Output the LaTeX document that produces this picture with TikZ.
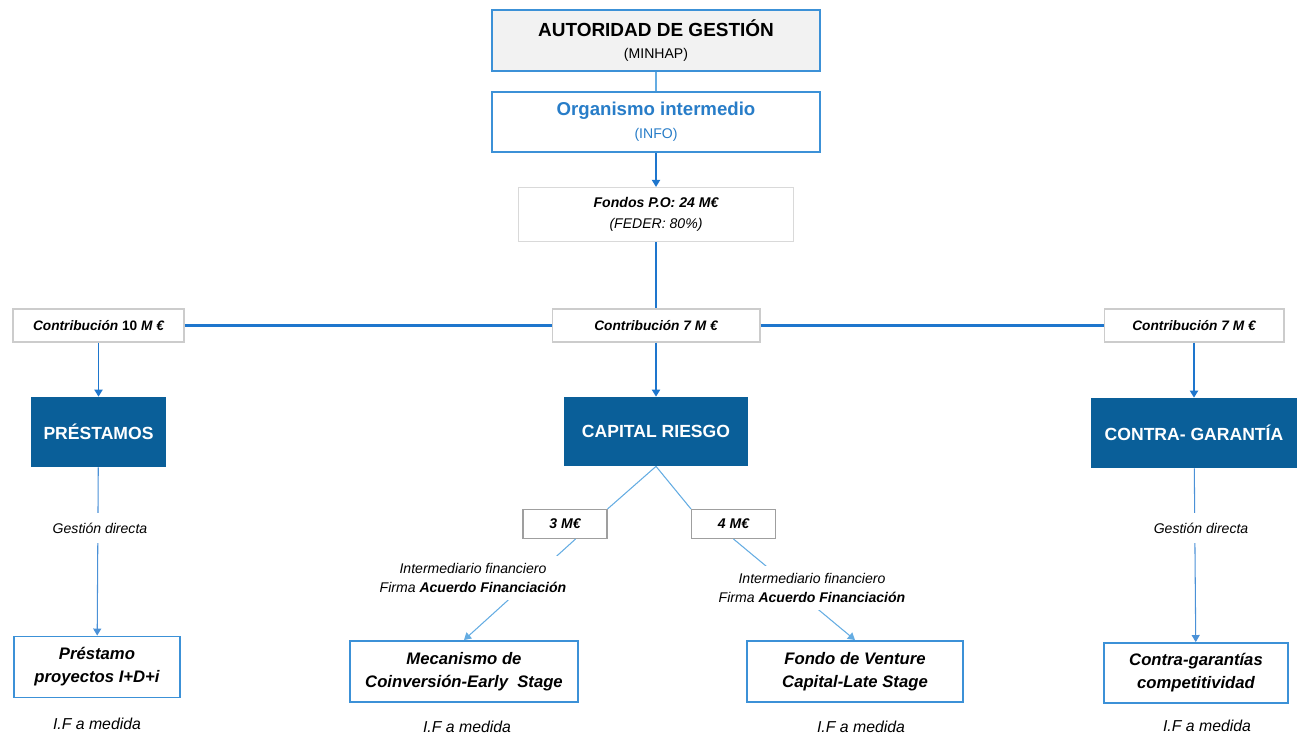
\documentclass[tikz,border=0pt]{standalone}
\usepackage{fontspec}
\setmainfont{Liberation Sans}
\usetikzlibrary{arrows.meta}
\definecolor{azuloscuro}{RGB}{10,95,153}
\definecolor{azulborde}{RGB}{60,145,215}
\definecolor{azullinea}{RGB}{30,118,205}
\definecolor{azulclaro}{RGB}{100,172,226}
\definecolor{azultexto}{RGB}{40,125,200}
\begin{document}
\begin{tikzpicture}[x=0.02cm, y=-0.02cm,
    cabecera/.style={draw=azulborde, line width=1.1pt, minimum width=6.56cm, minimum height=1.21cm, align=center, font=\fontsize{8}{13}\selectfont},
    fondo/.style={draw=gray!30, line width=0.6pt, fill=white, minimum width=5.5cm, minimum height=1.08cm, align=center, font=\itshape\fontsize{8}{12}\selectfont},
    contrib/.style={draw=gray!40, line width=0.6pt, fill=white, minimum height=0.66cm, font=\bfseries\itshape\fontsize{7.8}{10}\selectfont},
    instrumento/.style={fill=azuloscuro, text=white, minimum height=1.4cm, font=\bfseries\fontsize{10}{12}\selectfont},
    monto/.style={draw=gray!75, line width=0.6pt, fill=white, minimum width=1.68cm, minimum height=0.58cm, font=\bfseries\itshape\fontsize{8}{10}\selectfont},
    producto/.style={draw=azulborde, line width=1.1pt, fill=white, minimum height=1.22cm, align=center, font=\bfseries\itshape\fontsize{9.5}{13}\selectfont},
    etiqueta/.style={fill=white, align=center, inner xsep=2pt, inner ysep=5.5pt, font=\itshape\fontsize{8}{11.3}\selectfont},
    nota/.style={font=\itshape\fontsize{9}{11}\selectfont},
    flecha/.style={-{Triangle[length=4pt,width=4.6pt]}, azullinea, line width=1.1pt},
    flechafina/.style={-{Triangle[length=4pt,width=4.6pt]}, azullinea!80, line width=0.6pt},
    linea/.style={azullinea, line width=1.4pt},
    lineaclara/.style={azulclaro, line width=0.6pt}
]
\useasboundingbox (0,0) rectangle (1297,737);

\node[cabecera, fill=gray!10] (ag) at (656,40.5) {{\fontsize{10.8}{13}\selectfont\bfseries AUTORIDAD DE GESTIÓN}\\(MINHAP)};
\node[cabecera, fill=white, text=azultexto] (oi) at (656,122) {{\fontsize{10.6}{13}\selectfont\bfseries Organismo intermedio}\\(INFO)};
\node[fondo] (fp) at (656,214.5) {\textbf{Fondos P.O: 24 M€}\\(FEDER: 80\%)};

\node[contrib, minimum width=3.42cm] (c10) at (98.5,325.5) {Contribución \textup{10} M €};
\node[contrib, minimum width=4.16cm] (c7) at (656,325.5) {Contribución 7 M €};
\node[contrib, minimum width=3.6cm] (c7d) at (1194,325.5) {Contribución 7 M €};

\node[instrumento, minimum width=2.72cm] (pre) at (98.5,432) {PRÉSTAMOS};
\node[instrumento, minimum width=3.68cm, minimum height=1.38cm] (cr) at (656,431.5) {CAPITAL RIESGO};
\node[instrumento, minimum width=4.12cm] (cg) at (1194,433) {CONTRA- GARANTÍA};

\node[monto] (m3) at (565,524) {3 M€};
\node[monto] (m4) at (733.5,524) {4 M€};

\node[producto, minimum width=3.32cm] (pidi) at (97,667) {Préstamo\\proyectos I+D+i};
\node[producto, minimum width=4.56cm] (mec) at (464,671.5) {Mecanismo de\\Coinversión-Early~ Stage};
\node[producto, minimum width=4.32cm] (fvc) at (855,671.5) {Fondo de Venture\\Capital-Late Stage};
\node[producto, minimum width=3.68cm, minimum height=1.2cm] (cgc) at (1196,673) {Contra-garantías\\competitividad};

\draw[azulclaro, line width=0.8pt] (ag) -- (oi);
\draw[flecha, line width=0.9pt] (oi) -- (fp);
\draw[linea] (fp) -- (c7);
\draw[linea] (c10) -- (c7);
\draw[linea] (c7) -- (c7d);
\draw[flecha] (c10) -- (pre);
\draw[flecha] (c7) -- (cr);
\draw[flecha] (c7d) -- (cg);
\draw[lineaclara] (cr.south) -- (m3.north east);
\draw[lineaclara] (cr.south) -- (m4.north west);
\draw[flechafina, azulclaro] (m3.-55) -- (mec.north);
\draw[flechafina, azulclaro] (m4.south) -- (fvc.north);
\draw[flechafina] (pre) -- (pidi);
\draw[flechafina] (cg) -- (cgc);

\node[etiqueta] (gd1) at (100,528) {Gestión directa};
\node[etiqueta] (gd2) at (1201,528) {Gestión directa};
\node[etiqueta, inner ysep=4pt] (if1) at (473,578) {Intermediario financiero\\Firma \textbf{Acuerdo Financiación}};
\node[etiqueta, inner ysep=4pt] (if2) at (812,588) {Intermediario financiero\\Firma \textbf{Acuerdo Financiación}};

\node[nota] (n1) at (97,724) {I.F a medida};
\node[nota] (n2) at (467,727) {I.F a medida};
\node[nota] (n3) at (861,727) {I.F a medida};
\node[nota] (n4) at (1207,726) {I.F a medida};
\end{tikzpicture}
\end{document}
